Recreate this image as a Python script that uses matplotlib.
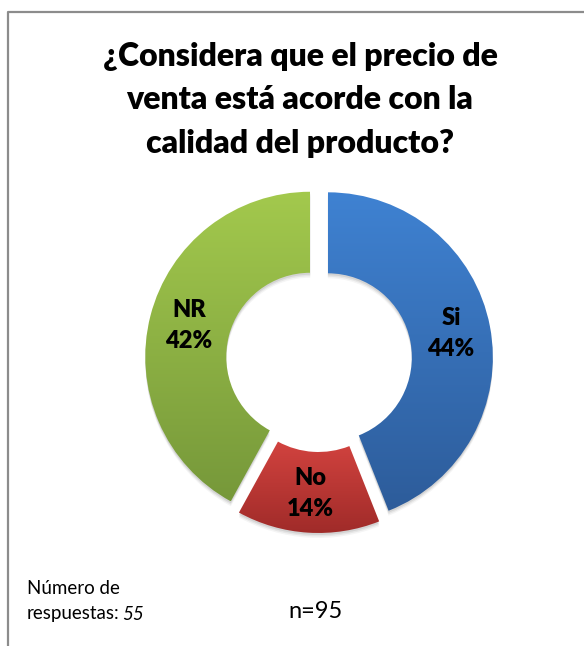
import numpy as np
import matplotlib
matplotlib.use("Agg")
import matplotlib.pyplot as plt
from matplotlib.patches import Wedge
from matplotlib.colors import LinearSegmentedColormap
from matplotlib.lines import Line2D

# survey answers
categories = ["Si", "No", "NR"]
values = [44, 14, 42]
top_colors = ["#3F82D2", "#D2433F", "#A3C94D"]
bottom_colors = ["#2D5C9A", "#A02B29", "#76983A"]

title = "¿Considera que el precio de\nventa está acorde con la\ncalidad del producto?"
n_total = 95
n_respuestas = 55

plt.rcParams['font.family'] = ['Lato', 'DejaVu Sans']

W, H = 584, 646
fig = plt.figure(figsize=(W / 100, H / 100), dpi=100)
ax = fig.add_axes([0, 0, 1, 1])

# frame: only top and left edges are inside the image
fig.add_artist(Line2D([7.5 / W, 7.5 / W, 1], [0, 1 - 12 / H, 1 - 12 / H],
                      transform=fig.transFigure, color="#8c8c8c", lw=1.6))

radius = 165
hole = 84
gap = 9  # explode offset, in pixels
wedges, texts, autotexts = ax.pie(
    values, center=(319, 287), radius=radius, startangle=90, counterclock=False,
    explode=[gap] * len(values), autopct='%1.0f%%', pctdistance=0.76,
    wedgeprops=dict(width=radius - hole, linewidth=0),
    textprops=dict(fontsize=17, fontweight='heavy', color='black'),
    frame=True)
ax.set_xlim(0, W)
ax.set_ylim(0, H)
ax.set_aspect('equal')
ax.axis('off')

for w, t, name, c_top, c_bot in zip(wedges, autotexts, categories, top_colors, bottom_colors):
    # soft drop shadow under each segment
    for k, a in [(5, 0.04), (3.5, 0.06), (2, 0.08)]:
        sh = Wedge((w.center[0], w.center[1] - k), w.r, w.theta1, w.theta2,
                   width=w.width, facecolor='black', alpha=a, lw=0, zorder=0)
        ax.add_patch(sh)
    # vertical gradient clipped to the segment
    x0, y0, x1, y1 = w.get_path().get_extents(w.get_patch_transform()).extents
    cmap = LinearSegmentedColormap.from_list(name, [c_bot, c_top])
    grad = np.linspace(0, 1, 256).reshape(-1, 1)
    im = ax.imshow(grad, cmap=cmap, extent=(x0, x1, y0, y1), origin='lower',
                   aspect='auto', zorder=1)
    im.set_clip_path(w)
    w.set_facecolor('none')
    t.set_text(f"{name}\n{t.get_text()}")
    t.set_linespacing(1.5)
    t.set_zorder(3)

ax.set_xlim(0, W)
ax.set_ylim(0, H)

ax.text(300, H - 42, title, ha='center', va='top', fontsize=23,
        fontweight='heavy', linespacing=1.6)

ax.text(27, H - 588, "Número de", ha='left', va='center', fontsize=13.5)
t1 = ax.text(27, H - 614, "respuestas:", ha='left', va='center', fontsize=13.5)
ax.annotate(f"{n_respuestas}", xy=(1, 0.5), xycoords=t1, xytext=(2, 0),
            textcoords='offset points', ha='left', va='center', fontsize=13.5,
            style='italic')
ax.text(316, H - 612, f"n={n_total}", ha='center', va='center', fontsize=17)

fig.savefig("out.png", dpi=100, facecolor='white')
